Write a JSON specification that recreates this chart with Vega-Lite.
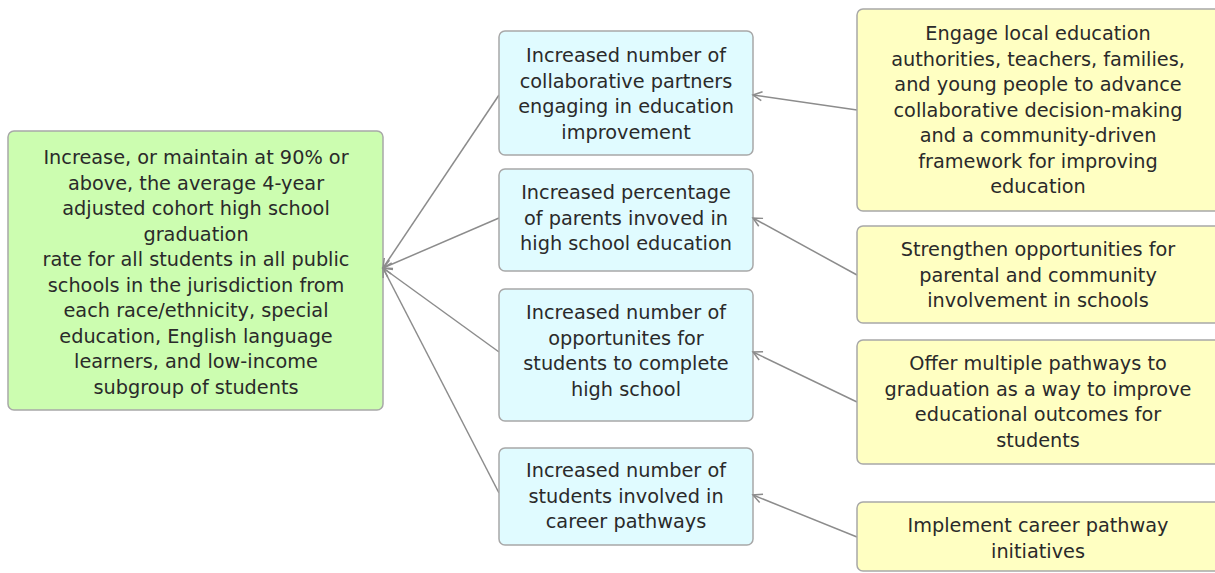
{
  "$schema": "https://vega.github.io/schema/vega-lite/v6.json",
  "width": 1215,
  "height": 573,
  "autosize": {"type": "none"},
  "padding": 0,
  "background": "white",
  "config": {"view": {"stroke": null}},
  "datasets": {
    "boxes": [
      {"id": "goal", "level": "goal", "x1": 8, "x2": 383, "y1": 131, "y2": 410},
      {"id": "o1", "level": "outcome", "x1": 499, "x2": 753, "y1": 31, "y2": 155},
      {"id": "o2", "level": "outcome", "x1": 499, "x2": 753, "y1": 169, "y2": 271},
      {"id": "o3", "level": "outcome", "x1": 499, "x2": 753, "y1": 289, "y2": 421},
      {"id": "o4", "level": "outcome", "x1": 499, "x2": 753, "y1": 448, "y2": 545},
      {"id": "s1", "level": "strategy", "x1": 857, "x2": 1222, "y1": 9, "y2": 211},
      {"id": "s2", "level": "strategy", "x1": 857, "x2": 1222, "y1": 226, "y2": 323},
      {"id": "s3", "level": "strategy", "x1": 857, "x2": 1222, "y1": 340, "y2": 464},
      {"id": "s4", "level": "strategy", "x1": 857, "x2": 1222, "y1": 502, "y2": 571}
    ],
    "edges": [
      {"from": "o1", "to": "goal", "xa": 499, "ya": 95, "xb": 383, "yb": 268, "angle": 123.8},
      {"from": "o2", "to": "goal", "xa": 499, "ya": 218, "xb": 383, "yb": 268, "angle": 156.7},
      {"from": "o3", "to": "goal", "xa": 499, "ya": 352, "xb": 383, "yb": 268, "angle": 215.9},
      {"from": "o4", "to": "goal", "xa": 499, "ya": 493, "xb": 383, "yb": 268, "angle": 242.7},
      {"from": "s1", "to": "o1", "xa": 857, "ya": 110, "xb": 753, "yb": 95, "angle": 188.2},
      {"from": "s2", "to": "o2", "xa": 857, "ya": 275, "xb": 753, "yb": 218, "angle": 208.7},
      {"from": "s3", "to": "o3", "xa": 857, "ya": 402, "xb": 753, "yb": 352, "angle": 205.7},
      {"from": "s4", "to": "o4", "xa": 857, "ya": 537, "xb": 753, "yb": 495, "angle": 202.0}
    ],
    "labels": [
      {"id": "goal", "cx": 196, "ty": 158, "text": "Increase, or maintain at 90% or\nabove, the average 4-year\nadjusted cohort high school\ngraduation\nrate for all students in all public\nschools in the jurisdiction from\neach race/ethnicity, special\neducation, English language\nlearners, and low-income\nsubgroup of students"},
      {"id": "o1", "cx": 626, "ty": 56, "text": "Increased number of\ncollaborative partners\nengaging in education\nimprovement"},
      {"id": "o2", "cx": 626, "ty": 193, "text": "Increased percentage\nof parents invoved in\nhigh school education"},
      {"id": "o3", "cx": 626, "ty": 313, "text": "Increased number of\nopportunites for\nstudents to complete\nhigh school"},
      {"id": "o4", "cx": 626, "ty": 471, "text": "Increased number of\nstudents involved in\ncareer pathways"},
      {"id": "s1", "cx": 1038, "ty": 34, "text": "Engage local education\nauthorities, teachers, families,\nand young people to advance\ncollaborative decision-making\nand a community-driven\nframework for improving\neducation"},
      {"id": "s2", "cx": 1038, "ty": 250, "text": "Strengthen opportunities for\nparental and community\ninvolvement in schools"},
      {"id": "s3", "cx": 1038, "ty": 364, "text": "Offer multiple pathways to\ngraduation as a way to improve\neducational outcomes for\nstudents"},
      {"id": "s4", "cx": 1038, "ty": 526, "text": "Implement career pathway\ninitiatives"}
    ]
  },
  "layer": [
    {
      "data": {"name": "edges"},
      "mark": {"type": "rule", "color": "#8c8c8c", "strokeWidth": 1.5},
      "encoding": {
        "x": {"field": "xa", "type": "quantitative", "scale": {"domain": [0, 1215], "nice": false, "zero": false}, "axis": null},
        "y": {"field": "ya", "type": "quantitative", "scale": {"domain": [0, 573], "nice": false, "zero": false, "reverse": true}, "axis": null},
        "x2": {"field": "xb"},
        "y2": {"field": "yb"}
      }
    },
    {
      "data": {"name": "boxes"},
      "mark": {"type": "rect", "cornerRadius": 6, "stroke": "#a8a8a8", "strokeWidth": 1.5},
      "encoding": {
        "x": {"field": "x1", "type": "quantitative", "scale": {"domain": [0, 1215], "nice": false, "zero": false}, "axis": null},
        "x2": {"field": "x2"},
        "y": {"field": "y1", "type": "quantitative", "scale": {"domain": [0, 573], "nice": false, "zero": false, "reverse": true}, "axis": null},
        "y2": {"field": "y2"},
        "color": {"field": "level", "type": "nominal", "legend": null, "scale": {"domain": ["goal", "outcome", "strategy"], "range": ["#ccfdb0", "#e0fbff", "#ffffc2"]}}
      }
    },
    {
      "data": {"name": "edges"},
      "mark": {"type": "point", "shape": "M-1,-0.5L0,0L-1,0.5", "filled": false, "stroke": "#8c8c8c", "strokeWidth": 1.5, "size": 324, "opacity": 1},
      "encoding": {
        "x": {"field": "xb", "type": "quantitative", "scale": {"domain": [0, 1215], "nice": false, "zero": false}, "axis": null},
        "y": {"field": "yb", "type": "quantitative", "scale": {"domain": [0, 573], "nice": false, "zero": false, "reverse": true}, "axis": null},
        "angle": {"field": "angle", "type": "quantitative", "scale": null}
      }
    },
    {
      "data": {"name": "labels"},
      "mark": {"type": "text", "font": "DejaVu Sans", "fontSize": 19.3, "lineHeight": 25.5, "lineBreak": "\n", "align": "center", "baseline": "middle", "color": "#2a2a2a"},
      "encoding": {
        "x": {"field": "cx", "type": "quantitative", "scale": {"domain": [0, 1215], "nice": false, "zero": false}, "axis": null},
        "y": {"field": "ty", "type": "quantitative", "scale": {"domain": [0, 573], "nice": false, "zero": false, "reverse": true}, "axis": null},
        "text": {"field": "text", "type": "nominal"}
      }
    }
  ]
}
